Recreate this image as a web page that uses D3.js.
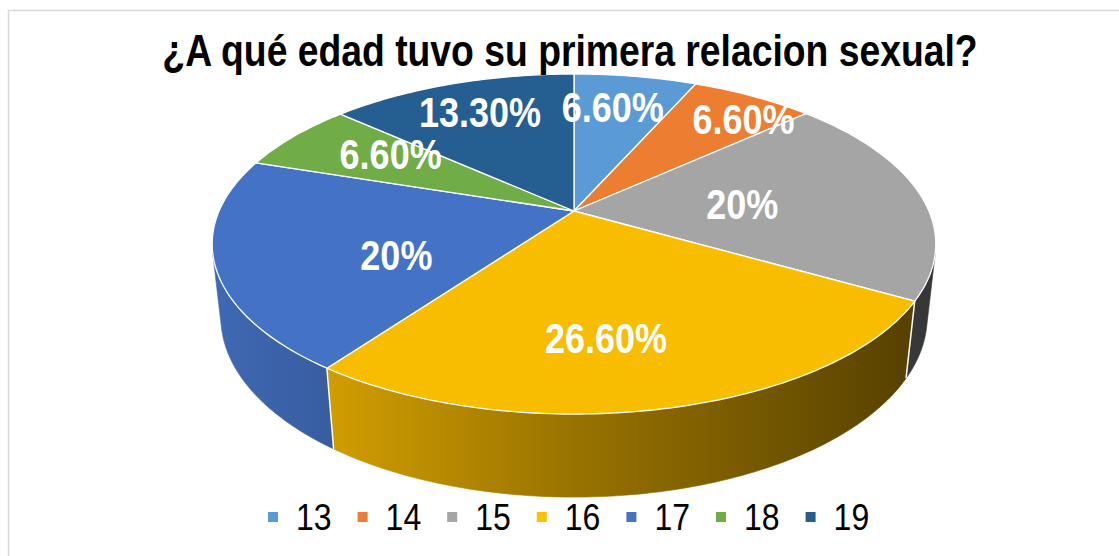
<!DOCTYPE html>
<html>
<head>
<meta charset="utf-8">
<script src="https://cdn.jsdelivr.net/npm/d3@7"></script>
<style>
  html, body { margin: 0; padding: 0; background: #fff; }
  svg { display: block; font-family: "Liberation Sans", Arial, sans-serif; }
</style>
</head>
<body>
<svg id="chart" width="1119" height="556"></svg>
<script>
// datos
const categories = ["13", "14", "15", "16", "17", "18", "19"];
const values = [6.6, 6.6, 20, 26.6, 20, 6.6, 13.3];
const valueLabels = ["6.60%", "6.60%", "20%", "26.60%", "20%", "6.60%", "13.30%"];
const sliceColors = ["#5B9BD5", "#ED7D31", "#A5A5A5", "#FFC000", "#4472C4", "#70AD47", "#255E91"];
const titleText = "¿A qué edad tuvo su primera relacion sexual?";

// colocación de etiquetas tipo "ajuste óptimo" (fracción del radio, giro en grados)
const labelRadius = [0.74, 0.83, 0.48, 0.68, 0.54, 0.67, 0.75];
const labelTurn = [-2.2, 4.5, 1.0, 5.5, -10.3, 4.1, 0.4];

const W = 1119, H = 556;
const svg = d3.select("#chart");
const TEXT_STRETCH = 1.17; // el original está algo estirado en vertical

// borde del área del gráfico
svg.append("rect")
  .attr("x", 8.5).attr("y", 10.5)
  .attr("width", 1300).attr("height", 700)
  .attr("fill", "none")
  .attr("stroke", "#d9d9d9")
  .attr("stroke-width", 1.5);

// proyección en perspectiva del disco
const cam = { cx: 574, cy: 211, f: 1622, D: 4.57, tilt: 27.45 * Math.PI / 180, depth: 0.234 };
const sinT = Math.sin(cam.tilt), cosT = Math.cos(cam.tilt);

function proj(r, th, h) {
  const u = r * Math.sin(th), v = -r * Math.cos(th);
  const zc = cam.D - v * cosT - h * sinT;
  return [cam.cx + cam.f * u / zc, cam.cy + cam.f * (v * sinT - h * cosT) / zc];
}

function arcPts(a0, a1, h) {
  const n = Math.max(2, Math.ceil(Math.abs(a1 - a0) / (Math.PI / 180)));
  return d3.range(n + 1).map(i => proj(1, a0 + (a1 - a0) * i / n, h));
}

const pie = d3.pie().sort(null).value(d => d)(values);

const color = d3.scaleOrdinal().domain(categories).range(sliceColors);

// gradientes para las caras laterales (luz desde la izquierda)
const defs = svg.append("defs");
categories.forEach((c, i) => {
  const base = d3.rgb(color(c));
  const g = defs.append("linearGradient")
    .attr("id", "side" + i)
    .attr("gradientUnits", "userSpaceOnUse")
    .attr("x1", cam.cx - 362).attr("x2", cam.cx + 362)
    .attr("y1", 0).attr("y2", 0);
  [[0, 0.92], [0.5, 0.6], [1, 0.32]].forEach(([o, k]) => {
    g.append("stop")
      .attr("offset", o)
      .attr("stop-color", d3.rgb(base.r * k, base.g * k, base.b * k).formatHex());
  });
});

// cara lateral visible donde v > 1/(D cos tilt)
const vLim = 1 / (cam.D * cosT);
const visA0 = Math.acos(-vLim), visA1 = 2 * Math.PI - Math.acos(-vLim);

const line = d3.line();
const gSide = svg.append("g");
pie.forEach((p, i) => {
  const a0 = Math.max(p.startAngle, visA0), a1 = Math.min(p.endAngle, visA1);
  if (a1 <= a0) return;
  const top = arcPts(a0, a1, 0);
  const bot = arcPts(a0, a1, -cam.depth).reverse();
  gSide.append("path")
    .attr("d", line(top.concat(bot)) + "Z")
    .attr("fill", `url(#side${i})`)
    .attr("stroke", `url(#side${i})`)
    .attr("stroke-width", 0.6);
});
// divisiones blancas en el lateral
pie.forEach(p => {
  const a = p.startAngle;
  if (a > visA0 && a < visA1) {
    gSide.append("path")
      .attr("d", line([proj(1, a, 0), proj(1, a, -cam.depth)]))
      .attr("stroke", "#fff")
      .attr("stroke-width", 1.5);
  }
});

// cara superior
const gTop = svg.append("g");
pie.forEach((p, i) => {
  const pts = [proj(0, 0, 0)].concat(arcPts(p.startAngle, p.endAngle, 0));
  gTop.append("path")
    .attr("d", line(pts) + "Z")
    .attr("fill", i === 3 ? "#F9BD00" : color(categories[i]))
    .attr("stroke", "#fff")
    .attr("stroke-width", 1.3)
    .attr("stroke-linejoin", "round");
});

// etiquetas de datos
pie.forEach((p, i) => {
  const mid = (p.startAngle + p.endAngle) / 2 + labelTurn[i] * Math.PI / 180;
  const [x, y] = proj(labelRadius[i], mid, 0);
  svg.append("g")
    .attr("transform", `translate(${x},${y}) scale(1,${TEXT_STRETCH})`)
    .append("text")
    .attr("text-anchor", "middle")
    .attr("dy", "0.36em")
    .attr("fill", "#fff")
    .attr("font-weight", "bold")
    .attr("font-size", 36)
    .text(valueLabels[i]);
});

// título
const titleG = svg.append("g")
  .attr("transform", `translate(570,66) scale(1,${TEXT_STRETCH})`);
const title = titleG.append("text")
  .attr("text-anchor", "middle")
  .attr("font-weight", "bold")
  .attr("font-size", 30)
  .attr("fill", "#000")
  .text(titleText);
const tw = title.node().getComputedTextLength();
title.attr("font-size", 30 * 815 / tw);

// leyenda
const legendX = d3.scaleBand().domain(categories).range([268, 268 + 7 * 89.6]);
const legend = svg.append("g").selectAll("g")
  .data(categories)
  .join("g")
  .attr("transform", d => `translate(${legendX(d)},517)`);
legend.append("rect")
  .attr("x", 0).attr("y", -5)
  .attr("width", 10).attr("height", 10)
  .attr("fill", d => color(d));
legend.append("g")
  .attr("transform", `translate(28,0) scale(1,${TEXT_STRETCH})`)
  .append("text")
  .attr("dy", "0.36em")
  .attr("font-size", 32)
  .attr("fill", "#000")
  .text(d => d);
</script>
</body>
</html>
